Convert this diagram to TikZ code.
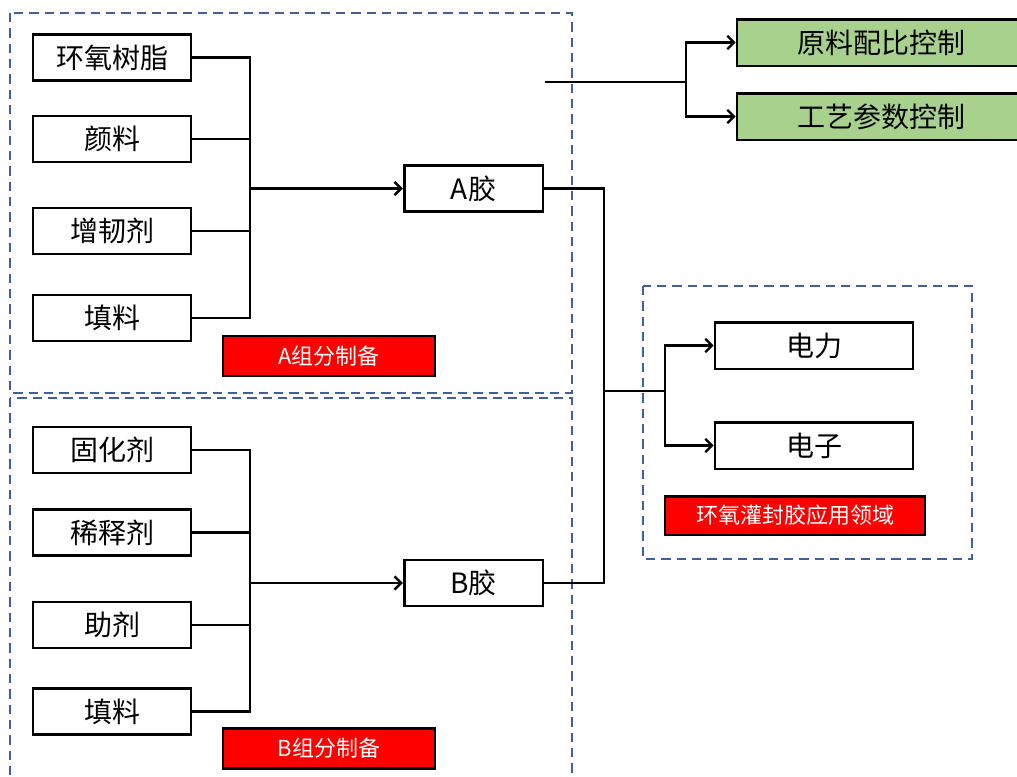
\documentclass[tikz,border=0pt]{standalone}
\usepackage{fontspec}
\setmainfont{Noto Sans CJK SC}
\usetikzlibrary{arrows.meta}
\definecolor{grpblue}{RGB}{63,95,160}
\definecolor{ctlgreen}{RGB}{169,209,142}
\begin{document}
\begin{tikzpicture}[x=0.75pt,y=0.75pt,yscale=-1,xscale=1,
  box/.style={draw,line width=2pt,inner sep=0pt,minimum width=118.5pt,minimum height=34.5pt,font=\fontsize{21}{21}\selectfont},
  gbox/.style={box,fill=ctlgreen,minimum width=216pt,minimum height=35pt},
  rbox/.style={draw,line width=2pt,fill=red,text=white,inner sep=0pt,minimum width=159pt,minimum height=30pt,font=\fontsize{16.5}{16.5}\selectfont},
  grp/.style={draw=grpblue,line width=2pt,dash pattern={on 7pt off 4.5pt}},
  link/.style={line width=1.8pt},
  arr/.style={link,-{Straight Barb[length=5pt,width=10pt,line width=1.8pt]}}]
\useasboundingbox (0,0) rectangle (1017,776);
\clip (0,0) rectangle (1017,776);
% group frames
\draw[grp] (10,13) rectangle (572,393);
\draw[grp] (10,398) rectangle (572,795);
\draw[grp] (643,286) rectangle (972,559);
% A component
\node[box] (epoxy) at (112,57.5) {环氧树脂};
\node[box] (pigment) at (112,139) {颜料};
\node[box] (toughener) at (112,231) {增韧剂};
\node[box] (fillera) at (112,318) {填料};
\node[box,minimum width=104pt] (aglue) at (473.5,188.5) {A胶};
\node[rbox] (alabel) at (329,356) {A组分制备};
\coordinate (busa) at (250,188.5);
% B component
\node[box] (hardener) at (112,450) {固化剂};
\node[box] (diluent) at (112,532.5) {稀释剂};
\node[box] (additive) at (112,625) {助剂};
\node[box] (fillerb) at (112,711.5) {填料};
\node[box,minimum width=104pt] (bglue) at (473.5,583) {B胶};
\node[rbox] (blabel) at (329,748.5) {B组分制备};
\coordinate (busb) at (250,583);
% control
\node[gbox] (ratio) at (881,42.5) {原料配比控制};
\node[gbox] (process) at (881,116.5) {工艺参数控制};
\coordinate (ctl) at (545,82);
\coordinate (ctlsplit) at (686,82);
% application
\node[box,minimum width=148.5pt,minimum height=35pt] (power) at (814,345.5) {电力};
\node[box,minimum width=148.5pt,minimum height=35pt] (electronics) at (814,445.5) {电子};
\node[rbox,minimum width=195pt,minimum height=29pt] (applabel) at (795,515.5) {环氧灌封胶应用领域};
\coordinate (join) at (604,391);
\coordinate (split) at (665,391);
% connectors
\draw[link] (epoxy.east) -| (busa) |- (fillera.east);
\draw[link] (pigment.east) -- (pigment.east -| busa);
\draw[link] (toughener.east) -- (toughener.east -| busa);
\draw[arr] (busa) -- (aglue.west);
\draw[link] (hardener.east) -| (busb) |- (fillerb.east);
\draw[link] (diluent.east) -- (diluent.east -| busb);
\draw[link] (additive.east) -- (additive.east -| busb);
\draw[arr] (busb) -- (bglue.west);
\draw[link] (aglue.east) -| (join) |- (bglue.east);
\draw[link] (join) -- (split);
\draw[arr] (split) |- (power.west);
\draw[arr] (split) |- (electronics.west);
\draw[link] (ctl) -- (ctlsplit);
\draw[arr] (ctlsplit) |- (ratio.west);
\draw[arr] (ctlsplit) |- (process.west);
\end{tikzpicture}
\end{document}
